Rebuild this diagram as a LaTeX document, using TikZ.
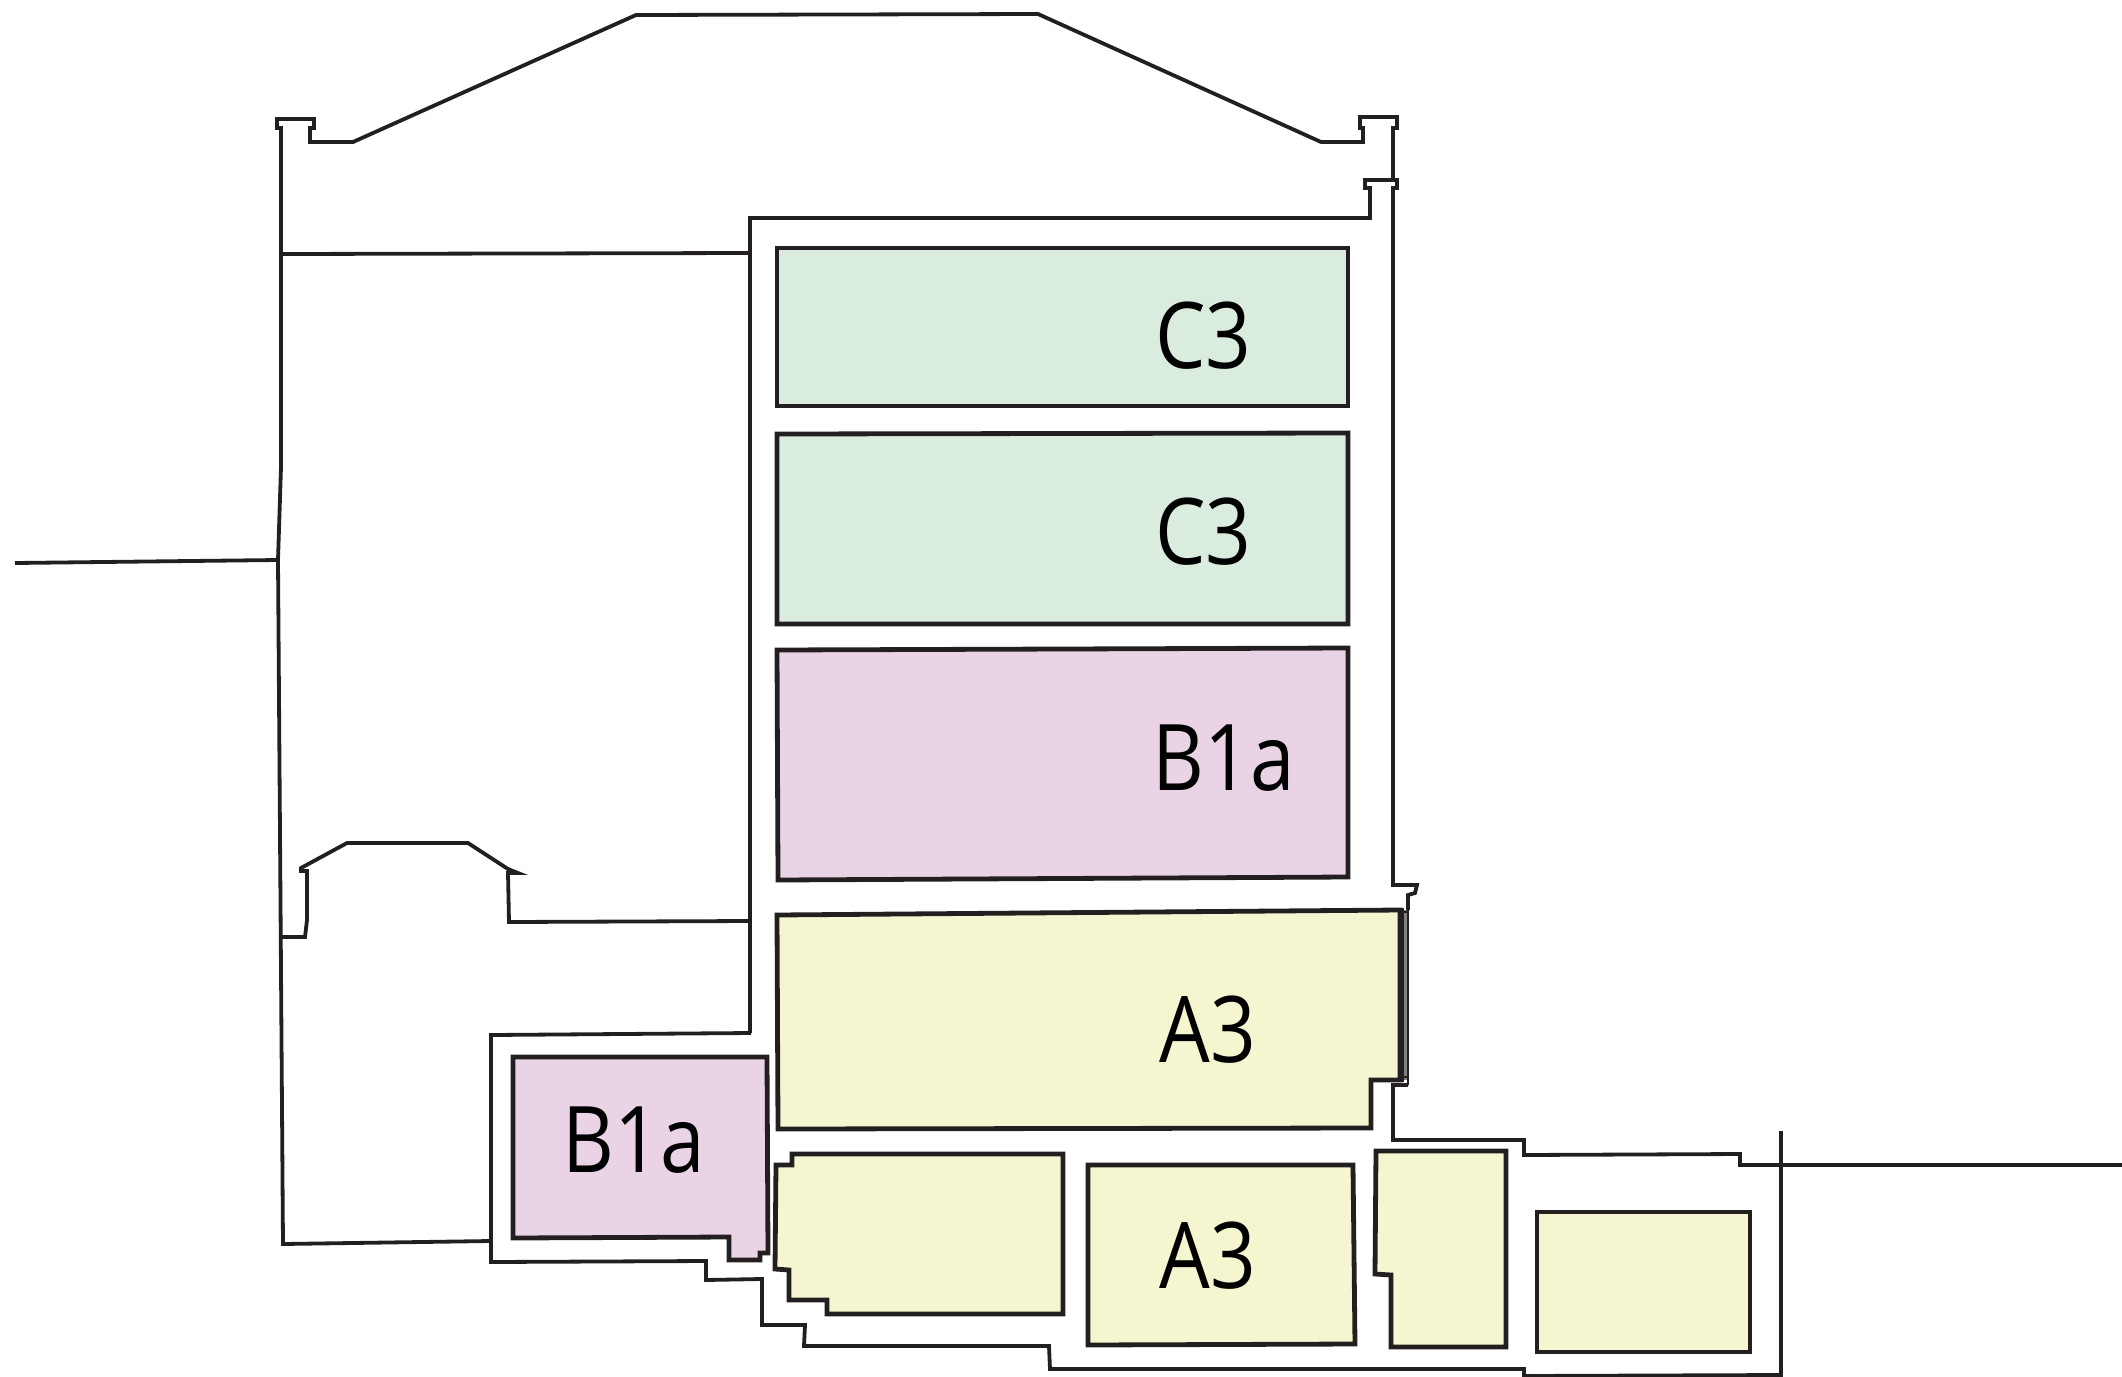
\documentclass[tikz,border=0pt]{standalone}
\usepackage{fontspec}
\newfontfamily\labfont[FakeStretch=0.87]{Open Sans}
\definecolor{ink}{HTML}{231F20}
\definecolor{greenroom}{HTML}{D9ECDE}
\definecolor{pinkroom}{HTML}{E9D3E5}
\definecolor{yellowroom}{HTML}{F5F6D0}
\tikzset{
  wall/.style={draw=ink,line width=1.9pt,line join=miter,fill=none},
  room/.style={draw=ink,line width=2.4pt,line join=miter},
  green/.style={room,fill=greenroom},
  pink/.style={room,fill=pinkroom},
  yellow/.style={room,fill=yellowroom},
  lab/.style={anchor=base west,inner sep=0pt,text=black,font=\labfont\fontsize{46}{50}\selectfont},
}
\begin{document}
\begin{tikzpicture}[x=0.5pt,y=-0.5pt]
\useasboundingbox (0,0) rectangle (2122,1377);
% rooms
\path[green] (777,248) -- (1348,248) -- (1348,406) -- (777,406) -- cycle;
\path[green] (777,434) -- (1348,433) -- (1348,624) -- (777,624) -- cycle;
\path[pink] (777,650) -- (1348,648) -- (1348,877) -- (778,880) -- cycle;
\path[yellow] (777,915) -- (1400,910) -- (1400,1080) -- (1371,1080) -- (1371,1128) -- (778,1129) -- cycle;
\path[pink] (513,1057) -- (767,1057) -- (768,1253) -- (760,1253) -- (760,1260) -- (729,1260) -- (729,1237) -- (513,1238) -- cycle;
\path[yellow] (792,1154) -- (1063,1154) -- (1063,1314) -- (827,1314) -- (827,1300) -- (789,1300) -- (789,1270) -- (775,1269) -- (776,1165) -- (792,1165) -- cycle;
\path[yellow] (1088,1165) -- (1353,1165) -- (1355,1344) -- (1088,1345) -- cycle;
\path[yellow] (1376,1151) -- (1506,1151) -- (1506,1347) -- (1391,1347) -- (1391,1275) -- (1375,1274) -- cycle;
\path[yellow] (1537,1212) -- (1750,1212) -- (1750,1352) -- (1537,1352) -- cycle;
% outer roof profile
\path[wall] (281,260) -- (281,128) -- (277,128) -- (277,119) -- (314,119) -- (314,128) -- (310,128) -- (310,142) -- (353,142) -- (636,15) -- (1038,14) -- (1321,142) -- (1363,142) -- (1363,128) -- (1360,128) -- (1360,117) -- (1397,117) -- (1397,128) -- (1393,128) -- (1393,180);
% main inner wall
\path[wall] (750,1033) -- (750,218) -- (1370,218) -- (1370,188) -- (1365,188) -- (1365,180) -- (1397,180) -- (1397,188) -- (1393,188) -- (1393,885) -- (1417,885) -- (1415,893) -- (1408,895) -- (1408,910);
\path[wall] (1408,1085) -- (1393,1085) -- (1393,1140) -- (1524,1140) -- (1524,1155) -- (1740,1154) -- (1740,1165) -- (2122,1165);
\path[wall] (1781,1131) -- (1781,1375) -- (1524,1376) -- (1524,1369) -- (1050,1369) -- (1049,1346) -- (804,1346) -- (805,1325) -- (762,1325) -- (762,1279) -- (706,1280) -- (706,1261) -- (491,1262) -- (491,1035) -- (751,1033);
% double lines on the right of the A3 room
\path[draw=gray,line width=1.2pt] (1405.5,910) -- (1405.5,1080);
\path[draw=ink,line width=0.8pt] (1403,908) -- (1403,1082) (1408,908) -- (1408,1085) (1401,912) -- (1408,912) (1401,1077) -- (1408,1077);
% left wall and floors
\path[wall] (281,128) -- (281,467) -- (278,560) -- (283,1244) -- (491,1241);
\path[wall] (281,254) -- (750,253);
\path[wall] (15,563) -- (278,560);
\path[wall] (282,937) -- (305,937) -- (307,920) -- (307,871) -- (301,871) -- (301,868) -- (347,843) -- (468,843) -- (508,869) -- (518,873) -- (508,873) -- (509,922) -- (750,921);
% labels
\node[lab] (c3a) at (1155,368) {C3};
\node[lab] (c3b) at (1155,564) {C3};
\node[lab] (b1a) at (1152,790) {B1a};
\node[lab] (a3a) at (1159,1062) {A3};
\node[lab] (b1b) at (562,1172) {B1a};
\node[lab] (a3b) at (1159,1288) {A3};
\end{tikzpicture}
\end{document}
